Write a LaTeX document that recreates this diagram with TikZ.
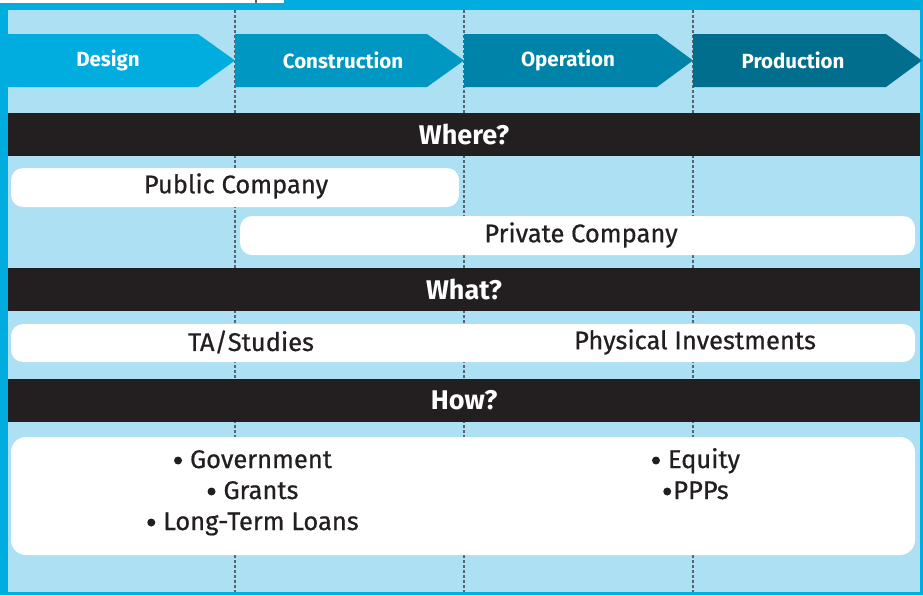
\documentclass[tikz,border=0pt]{standalone}
\usepackage{fontspec}
\setmainfont{Fira Sans}
\newfontfamily\medfont[FakeBold=0.6]{Fira Sans}
\definecolor{borderblue}{RGB}{0,173,222}
\definecolor{lightbg}{RGB}{172,224,242}
\definecolor{cA}{RGB}{0,173,222}
\definecolor{cB}{RGB}{0,152,195}
\definecolor{cC}{RGB}{0,131,169}
\definecolor{cD}{RGB}{0,110,140}
\definecolor{barblack}{RGB}{35,31,32}
\definecolor{txt}{RGB}{35,31,32}
\definecolor{dashgray}{RGB}{85,100,110}
\newcommand{\mybul}{\tikz[baseline=-7.5pt]\fill[txt] (0,0) circle (4pt);}
\tikzset{
  divider/.style={draw=dashgray, line width=1.1pt, dash pattern=on 3pt off 2pt},
  phase/.style={font=\bfseries\fontsize{20.5}{24}\selectfont, text=white},
  bartext/.style={font=\bfseries\fontsize{27}{30}\selectfont, text=white},
  pilltext/.style={font=\medfont\fontsize{25.5}{28}\selectfont, text=txt},
  listtext/.style={font=\medfont\fontsize{25.5}{28}\selectfont, text=txt, anchor=base},
  pill/.style={fill=white, rounded corners=12pt},
}
\begin{document}
\begin{tikzpicture}[x=1pt,y=-1pt]
\useasboundingbox (0,0) rectangle (923,595);
% frame
\fill[borderblue] (0,0) rectangle (923,595);
\fill[white] (0,0) rectangle (284,3);
\draw[divider] (256,0) -- (256,3);
\fill[lightbg] (8,10) rectangle (920,592);
% dividers
\foreach \x in {235,464,693} \draw[divider] (\x,10) -- (\x,592);
% chevrons
\fill[cA] (8,34) -- (198,34) -- (235,60.5) -- (198,87) -- (8,87) -- cycle;
\fill[cB] (235,34) -- (427,34) -- (464,60.5) -- (427,87) -- (235,87) -- cycle;
\fill[cC] (464,34) -- (657,34) -- (693,60.5) -- (657,87) -- (464,87) -- cycle;
\fill[cD] (693,34) -- (886,34) -- (922,60.5) -- (886,87) -- (693,87) -- cycle;
\node[phase] (design) at (108,60) {Design};
\node[phase] (construction) at (343,60) {Construction};
\node[phase] (operation) at (568,60) {Operation};
\node[phase] (production) at (793,60) {Production};
% bars
\fill[barblack] (8,113) rectangle (920,156);
\node[bartext] (where) at (464,134) {Where?};
\fill[barblack] (8,268) rectangle (920,311);
\node[bartext] (what) at (464,289) {What?};
\fill[barblack] (8,379) rectangle (920,422);
\node[bartext] (how) at (464,400) {How?};
% where pills
\fill[pill] (11,168) rectangle (459,207);
\node[pilltext] (public) at (236,186) {Public Company};
\fill[pill] (240,216) rectangle (915,255);
\node[pilltext] (private) at (581,235) {Private Company};
% what pill
\fill[pill] (11,324) rectangle (915,362);
\node[pilltext] (ta) at (251,342) {TA/Studies};
\node[pilltext] (phys) at (695,342) {Physical Investments};
% how box
\fill[white, rounded corners=15pt] (11,437) rectangle (915,555);
\node[listtext] (gov) at (253,468) {\mybul\hspace{8pt}Government};
\node[listtext] (grants) at (253,499) {\mybul\hspace{8pt}Grants};
\node[listtext] (loans) at (253,530) {\mybul\hspace{8pt}Long-Term Loans};
\node[listtext] (equity) at (696,468) {\mybul\hspace{8pt}Equity};
\node[listtext] (ppps) at (696,499) {\mybul\hspace{2pt}PPPs};
\end{tikzpicture}
\end{document}
